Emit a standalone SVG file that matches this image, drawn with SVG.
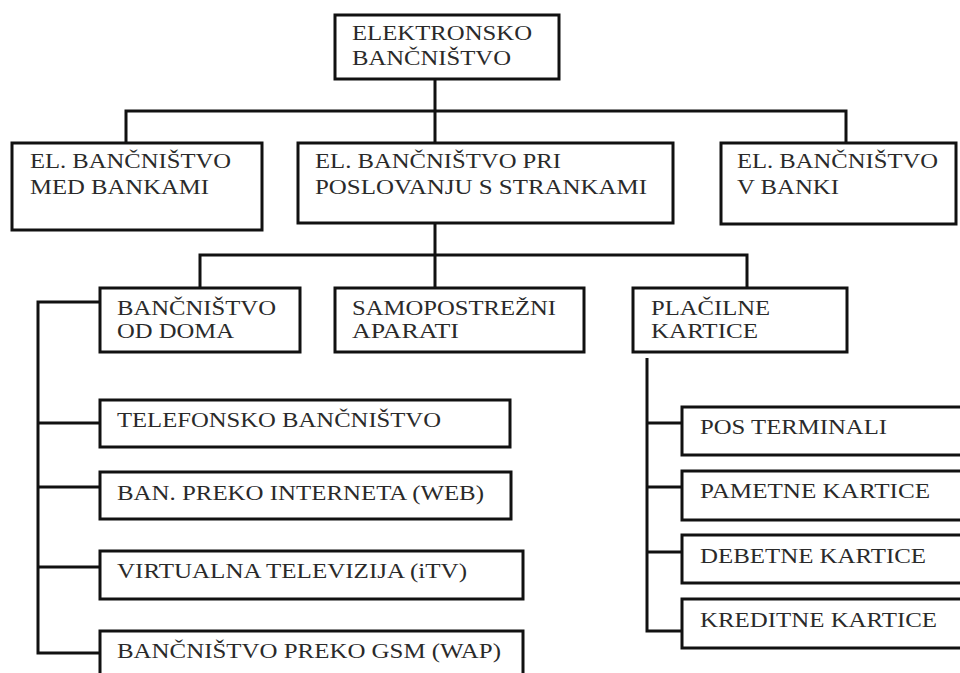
<svg xmlns="http://www.w3.org/2000/svg" width="960" height="673" viewBox="0 0 960 673">
<style>
.box{fill:#fff;stroke:#111;stroke-width:3}
.con{fill:none;stroke:#111;stroke-width:3}
text{font-family:"Liberation Serif","Times New Roman",serif;font-size:20px;fill:#2a2a2a}
</style>
<rect width="960" height="673" fill="#fff"/>
<g id="connectors" class="con">
<path d="M435 79V143M126 143V111H846V143"/>
<path d="M435 223V288M200 288V255H747V288"/>
<path d="M100 302H38V653H100M38 423H100M38 487H100M38 567H100"/>
<path d="M647 358V631H682M647 423H682M647 487H682M647 552H682"/>
</g>
<g id="n-root"><rect class="box" x="335" y="15" width="224" height="64"/>
<text x="352" y="40" textLength="180" lengthAdjust="spacingAndGlyphs">ELEKTRONSKO</text>
<text x="352" y="65" textLength="159" lengthAdjust="spacingAndGlyphs">BANČNIŠTVO</text></g>
<g id="n-med-bankami"><rect class="box" x="12" y="143" width="250" height="87"/>
<text x="30" y="168" textLength="201" lengthAdjust="spacingAndGlyphs">EL. BANČNIŠTVO</text>
<text x="30" y="194" textLength="179" lengthAdjust="spacingAndGlyphs">MED BANKAMI</text></g>
<g id="n-stranke"><rect class="box" x="298" y="143" width="375" height="80"/>
<text x="315" y="168" textLength="246" lengthAdjust="spacingAndGlyphs">EL. BANČNIŠTVO PRI</text>
<text x="315" y="194" textLength="332" lengthAdjust="spacingAndGlyphs">POSLOVANJU S STRANKAMI</text></g>
<g id="n-v-banki"><rect class="box" x="721" y="143" width="235" height="81"/>
<text x="737" y="168" textLength="201" lengthAdjust="spacingAndGlyphs">EL. BANČNIŠTVO</text>
<text x="737" y="194" textLength="102" lengthAdjust="spacingAndGlyphs">V BANKI</text></g>
<g id="n-doma"><rect class="box" x="100" y="288" width="200" height="64"/>
<text x="117" y="315" textLength="159" lengthAdjust="spacingAndGlyphs">BANČNIŠTVO</text>
<text x="117" y="338" textLength="117" lengthAdjust="spacingAndGlyphs">OD DOMA</text></g>
<g id="n-samopostrezni"><rect class="box" x="335" y="288" width="249" height="64"/>
<text x="352" y="315" textLength="204" lengthAdjust="spacingAndGlyphs">SAMOPOSTREŽNI</text>
<text x="352" y="338" textLength="107" lengthAdjust="spacingAndGlyphs">APARATI</text></g>
<g id="n-placilne"><rect class="box" x="633" y="288" width="214" height="64"/>
<text x="651" y="315" textLength="119" lengthAdjust="spacingAndGlyphs">PLAČILNE</text>
<text x="651" y="338" textLength="107" lengthAdjust="spacingAndGlyphs">KARTICE</text></g>
<g id="n-telefonsko"><rect class="box" x="100" y="400" width="410" height="47"/>
<text x="117" y="427" textLength="324" lengthAdjust="spacingAndGlyphs">TELEFONSKO BANČNIŠTVO</text></g>
<g id="n-web"><rect class="box" x="100" y="472" width="411" height="47"/>
<text x="117" y="500" textLength="367" lengthAdjust="spacingAndGlyphs">BAN. PREKO INTERNETA (WEB)</text></g>
<g id="n-itv"><rect class="box" x="100" y="551" width="423" height="48"/>
<text x="117" y="578" textLength="350" lengthAdjust="spacingAndGlyphs">VIRTUALNA TELEVIZIJA (iTV)</text></g>
<g id="n-wap"><rect class="box" x="100" y="631" width="423" height="50"/>
<text x="117" y="658" textLength="384" lengthAdjust="spacingAndGlyphs">BANČNIŠTVO PREKO GSM (WAP)</text></g>
<g id="n-pos"><rect class="box" x="682" y="407" width="285" height="48"/>
<text x="700" y="434" textLength="187" lengthAdjust="spacingAndGlyphs">POS TERMINALI</text></g>
<g id="n-pametne"><rect class="box" x="682" y="471" width="285" height="49"/>
<text x="700" y="498" textLength="230" lengthAdjust="spacingAndGlyphs">PAMETNE KARTICE</text></g>
<g id="n-debetne"><rect class="box" x="682" y="535" width="285" height="48"/>
<text x="700" y="563" textLength="226" lengthAdjust="spacingAndGlyphs">DEBETNE KARTICE</text></g>
<g id="n-kreditne"><rect class="box" x="682" y="599" width="285" height="49"/>
<text x="700" y="627" textLength="237" lengthAdjust="spacingAndGlyphs">KREDITNE KARTICE</text></g>
</svg>
